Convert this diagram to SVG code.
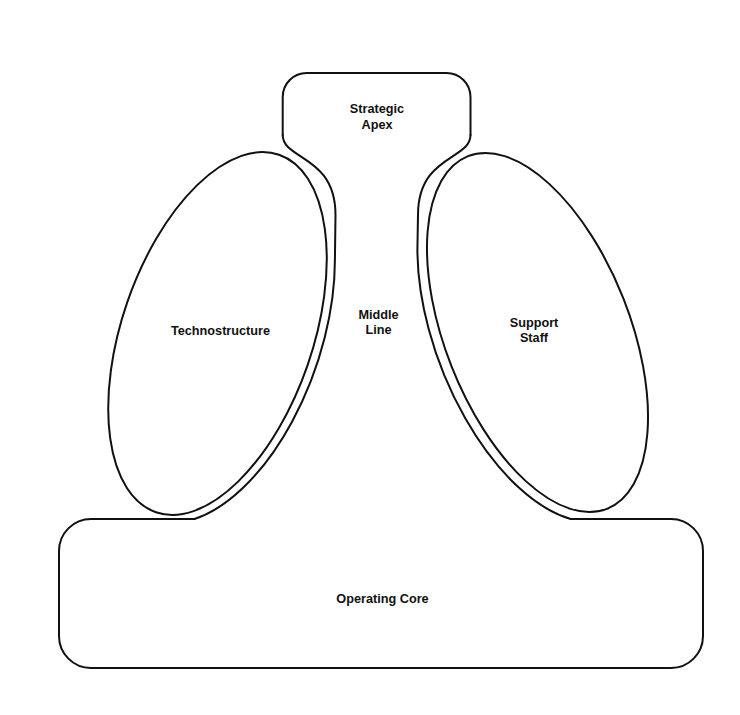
<svg xmlns="http://www.w3.org/2000/svg" width="740" height="715" viewBox="0 0 740 715">
  <style>
    .outline { fill: none; stroke: #111; stroke-width: 2; stroke-linecap: round; stroke-linejoin: round; }
    .label { font-family: "Liberation Sans", Arial, sans-serif; font-weight: bold; font-size: 12.7px; fill: #111; text-anchor: middle; }
  </style>
  <rect x="0" y="0" width="740" height="715" fill="#ffffff"/>
  <g id="strategic-apex">
    <path class="outline" d="M 282.7,135 V 97 A 24 24 0 0 1 306.7,73 H 446.5 A 24 24 0 0 1 470.5,97 V 135"/>
    <text class="label" x="377" y="113">Strategic</text>
    <text class="label" x="377" y="129">Apex</text>
  </g>
  <g id="middle-line">
    <path class="outline" d="M 282.7,135 C 282.7,160 335.5,155 335.5,215 L 334.9,260.1 A 104 197 19 0 1 194.5,519"/>
    <path class="outline" d="M 470.5,135 C 470.5,160 418,155 418,215 L 417.4,249.3 A 102.4 199.5 -21.5 0 0 570.7,519"/>
    <text class="label" x="378.5" y="319">Middle</text>
    <text class="label" x="378.5" y="334">Line</text>
  </g>
  <g id="operating-core">
    <path class="outline" d="M 194.5,519 H 91 A 32 32 0 0 0 59,551 V 636 A 32 32 0 0 0 91,668 H 671 A 32 32 0 0 0 703,636 V 551 A 32 32 0 0 0 671,519 H 570.7"/>
    <text class="label" x="382.5" y="603">Operating Core</text>
  </g>
  <g id="technostructure">
    <ellipse class="outline" cx="217.5" cy="333.5" rx="95.5" ry="189" transform="rotate(19 217.5 333.5)"/>
    <text class="label" x="220.5" y="335">Technostructure</text>
  </g>
  <g id="support-staff">
    <ellipse class="outline" cx="537.5" cy="332.5" rx="92.4" ry="189.5" transform="rotate(-21.5 537.5 332.5)"/>
    <text class="label" x="534" y="327">Support</text>
    <text class="label" x="534" y="342">Staff</text>
  </g>
  <g id="connectors"/>
</svg>
